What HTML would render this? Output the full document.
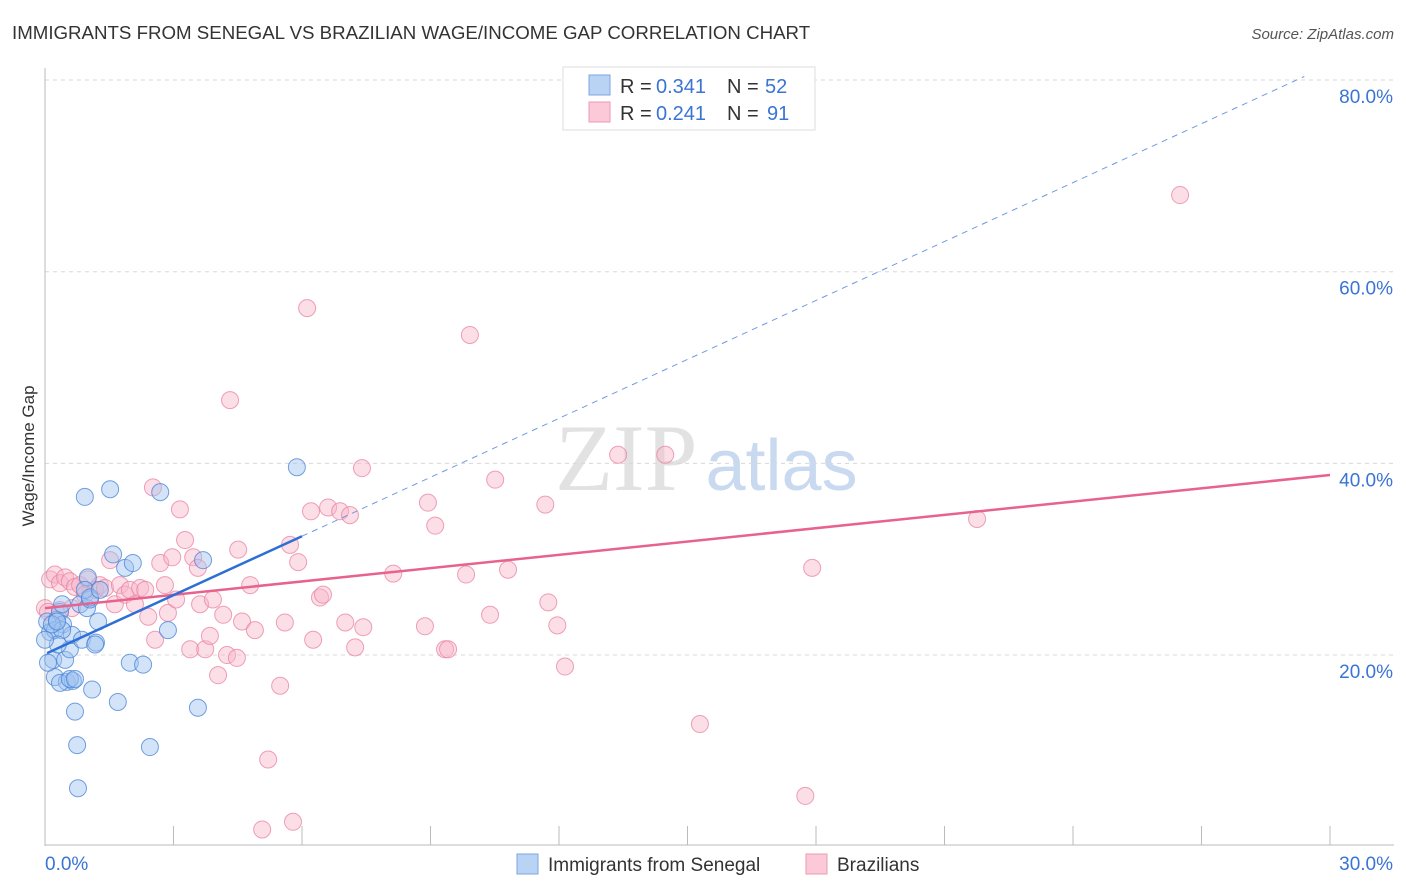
<!DOCTYPE html>
<html><head><meta charset="utf-8"><style>
body{margin:0;background:#fff;font-family:"Liberation Sans",sans-serif;}
svg{display:block}
</style></head><body>
<svg id="chart" width="1406" height="892" xmlns="http://www.w3.org/2000/svg" font-family="Liberation Sans, sans-serif">
<text x="12" y="39" font-size="18.7" fill="#333">IMMIGRANTS FROM SENEGAL VS BRAZILIAN WAGE/INCOME GAP CORRELATION CHART</text>
<text x="1394" y="39" font-size="15" fill="#555" font-style="italic" text-anchor="end">Source: ZipAtlas.com</text>
<text x="555" y="490" font-size="95" fill="#e2e2e2" font-family="Liberation Serif, serif">ZIP<tspan fill="#c9d9f0" font-family="Liberation Sans, sans-serif" font-size="72" dx="8">atlas</tspan></text>
<text transform="translate(34,456) rotate(-90)" font-size="17" fill="#333" text-anchor="middle">Wage/Income Gap</text>
<g id="grid"></g><g id="axes"></g><g id="pts"></g><g id="lines"></g>
<g>
<rect x="563" y="67" width="252" height="63" fill="#fff" stroke="#ddd"/>
<rect x="589" y="75" width="21" height="20" fill="#b9d3f5" stroke="#7ea6e0"/>
<rect x="589" y="102" width="21" height="20" fill="#fbc9d8" stroke="#eb98b2"/>
<text x="620" y="93" font-size="20" fill="#333">R =</text>
<text x="656" y="93" font-size="20" fill="#3a74d4">0.341</text>
<text x="727" y="93" font-size="20" fill="#333">N =</text>
<text x="765" y="93" font-size="20" fill="#3a74d4">52</text>
<text x="620" y="120" font-size="20" fill="#333">R =</text>
<text x="656" y="120" font-size="20" fill="#3a74d4">0.241</text>
<text x="727" y="120" font-size="20" fill="#333">N =</text>
<text x="767" y="120" font-size="20" fill="#3a74d4">91</text>
</g>
<g>
<rect x="517" y="854" width="21" height="20" fill="#b9d3f5" stroke="#7ea6e0"/>
<text x="548" y="871" font-size="19" fill="#333">Immigrants from Senegal</text>
<rect x="806" y="854" width="21" height="20" fill="#fbc9d8" stroke="#eb98b2"/>
<text x="837" y="871" font-size="19" fill="#333">Brazilians</text>
</g>
</svg>
<script>
const blueX=[0.05,0.12,0.19,0.23,0.28,0.35,0.40,0.42,0.47,0.51,0.58,0.63,0.65,0.70,0.75,0.77,0.82,0.86,0.93,0.98,1.00,1.05,1.10,1.19,1.24,1.52,1.59,1.70,1.87,1.98,2.05,2.29,2.45,2.69,2.87,3.57,3.69,5.88,0.35,0.58,0.07,0.23,1.17,0.40,0.16,0.30,0.93,1.05,1.28,0.28,0.00,0.70];
const blueY=[23.5,22.4,19.5,17.7,23.7,24.5,25.3,23.2,19.5,17.2,20.6,22.1,17.3,14.1,10.6,6.1,25.3,21.6,36.5,24.9,28.1,25.8,16.4,21.3,23.5,37.3,30.5,15.1,29.1,19.2,29.6,19.0,10.4,37.0,22.6,14.5,29.9,39.6,17.1,17.5,19.2,22.6,21.1,22.6,23.2,21.1,26.8,26.0,26.8,23.5,21.6,17.5];
const pinkX=[0.12,0.23,0.35,0.47,0.58,0.70,0.82,1.00,1.17,1.28,1.40,1.52,1.63,1.75,1.87,1.98,2.10,2.22,2.34,2.41,2.52,2.57,2.69,2.80,2.87,2.97,3.06,3.15,3.27,3.39,3.46,3.57,3.62,3.74,3.85,3.92,4.04,4.16,4.25,4.32,4.48,4.51,4.60,4.79,4.90,5.07,5.21,5.49,5.60,5.72,5.79,5.91,6.12,6.21,6.26,6.42,6.49,6.61,6.89,7.01,7.12,7.24,7.40,7.43,8.13,8.87,8.94,9.11,9.34,9.41,9.83,9.92,10.39,10.51,10.81,11.68,11.75,11.96,12.14,13.38,14.48,15.29,17.75,17.91,21.76,26.50,0.00,0.07,0.35,0.63,0.93];
const pinkY=[27.9,28.4,27.5,28.1,27.7,27.1,27.3,27.9,26.8,27.3,27.0,29.9,25.3,27.3,26.3,26.8,25.3,27.0,26.8,24.0,37.5,21.6,29.6,27.3,24.4,30.2,25.8,35.2,32.0,20.6,30.2,29.1,25.3,20.6,22.0,25.8,17.9,24.2,20.0,46.6,19.7,31.0,23.5,27.3,22.6,1.8,9.1,16.8,23.4,31.5,2.6,29.7,56.2,35.0,21.6,26.0,26.3,35.4,35.0,23.4,34.6,20.8,39.5,22.9,28.5,23.0,35.9,33.5,20.6,20.6,28.4,53.4,24.2,38.3,28.9,35.7,25.5,23.1,18.8,40.9,40.9,12.8,5.3,29.1,34.2,68.0,24.9,24.5,24.7,24.9,26.3];
const yTicks=[20,40,60,80];
const xTickLabels=["0.0%","30.0%"];
const blueTrend=[20.1,2.05];
const pinkTrend=[24.9,0.463];
const NS="http://www.w3.org/2000/svg";
const X=v=>45+v/30*1285;
const Y=v=>846.7-v*9.583;
function mk(tag,attrs,parent){const e=document.createElementNS(NS,tag);for(const k in attrs)e.setAttribute(k,attrs[k]);parent.appendChild(e);return e;}
const grid=document.getElementById('grid'),axes=document.getElementById('axes'),pts=document.getElementById('pts'),lines=document.getElementById('lines');
yTicks.forEach(t=>{
  const l=mk('line',{x1:45,x2:1394,y1:Y(t),y2:Y(t),stroke:'#d8d8d8','stroke-dasharray':'4,4'},grid);
  
  
  const tx=mk('text',{x:1393,y:Y(t)+23,'font-size':19,fill:'#3a74d4','text-anchor':'end'},axes);
  tx.textContent=t.toFixed(1)+'%';
  
  
});
const ya=mk('line',{x1:45,x2:45,y1:68,y2:846,stroke:'#bbb'},axes);


const xa=mk('line',{x1:45,x2:1394,y1:845,y2:845,stroke:'#bbb'},axes);


for(let i=1;i<=10;i++){
  const tk=mk('line',{x1:X(i*3),x2:X(i*3),y1:826,y2:845,stroke:'#bbb'},axes);
  
  
}
[[0,'start',45],[30,'end',1393]].forEach((d,i)=>{
  const tx=mk('text',{x:d[2],y:870,'font-size':19,fill:'#3a74d4','text-anchor':d[1]},axes);
  tx.textContent=xTickLabels[i];
  
  
});
pinkX.forEach((x,i)=>{
  const c=mk('circle',{cx:X(x),cy:Y(pinkY[i]),r:8.5,fill:'rgba(248,182,202,0.45)',stroke:'rgba(232,130,162,0.75)','stroke-width':1},pts);
  
  
});
blueX.forEach((x,i)=>{
  const c=mk('circle',{cx:X(x),cy:Y(blueY[i]),r:8.5,fill:'rgba(160,196,240,0.45)',stroke:'rgba(70,130,215,0.75)','stroke-width':1},pts);
  
  
});
const pl=mk('line',{x1:X(0),y1:Y(pinkTrend[0]),x2:X(30),y2:Y(pinkTrend[0]+pinkTrend[1]*30),stroke:'#e8628e','stroke-width':2.5},lines);


const bl=mk('line',{x1:X(0.05),y1:Y(blueTrend[0]+blueTrend[1]*0.05),x2:X(6),y2:Y(blueTrend[0]+blueTrend[1]*6),stroke:'#2e6fd6','stroke-width':2.5},lines);


const bd=mk('line',{x1:X(6),y1:Y(blueTrend[0]+blueTrend[1]*6),x2:X(29.4),y2:Y(blueTrend[0]+blueTrend[1]*29.4),stroke:'#6f9be0','stroke-width':1,'stroke-dasharray':'6,5'},lines);


</script>
</body></html>
